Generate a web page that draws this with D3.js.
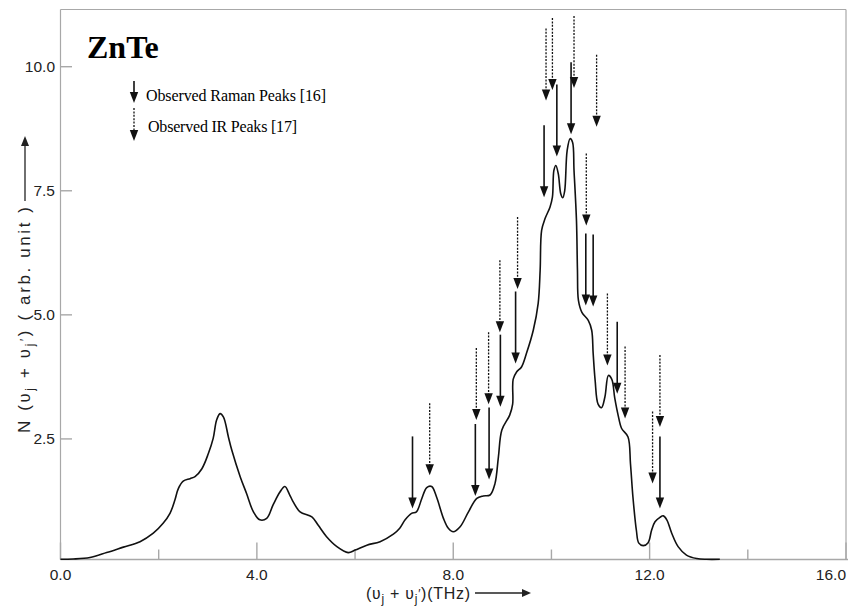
<!DOCTYPE html>
<html>
<head>
<meta charset="utf-8">
<script src="https://cdn.jsdelivr.net/npm/d3@7"></script>
<style>
  body { margin: 0; background: #fff; }
  text { font-family: "Liberation Sans", Arial, sans-serif; }
  text.serif { font-family: "Liberation Serif", "Times New Roman", serif; }
</style>
</head>
<body>
<div id="chart"></div>
<script>
// ZnTe two-phonon density of states
var freq = [0.0,0.26,0.6,0.94,1.28,1.62,1.89,2.09,2.23,2.33,2.4,2.5,2.64,2.74,2.88,3.01,3.11,3.18,3.25,3.32,3.42,3.49,3.66,3.79,3.93,4.06,4.2,4.33,4.47,4.57,4.67,4.74,4.88,5.12,5.25,5.42,5.63,5.86,6.0,6.24,6.51,6.78,6.91,7.02,7.15,7.25,7.36,7.46,7.56,7.66,7.8,7.9,8.0,8.14,8.31,8.48,8.61,8.75,8.85,8.92,8.99,9.15,9.21,9.22,9.29,9.39,9.49,9.63,9.73,9.77,9.8,9.87,9.97,10.02,10.05,10.09,10.14,10.19,10.23,10.27,10.32,10.38,10.43,10.46,10.51,10.53,10.55,10.62,10.75,10.82,10.85,10.89,10.95,11.02,11.09,11.16,11.23,11.29,11.36,11.43,11.56,11.61,11.66,11.73,11.78,11.87,11.97,12.04,12.11,12.21,12.28,12.35,12.45,12.58,12.75,12.96,13.16,13.43]
var dos  = [0.075,0.08,0.11,0.21,0.32,0.43,0.6,0.8,1.0,1.27,1.5,1.65,1.7,1.74,1.9,2.2,2.51,2.88,3.01,2.94,2.54,2.27,1.74,1.4,1.03,0.87,0.9,1.17,1.43,1.54,1.37,1.23,1.03,0.93,0.76,0.53,0.33,0.21,0.26,0.36,0.43,0.58,0.7,0.87,1.0,1.03,1.3,1.52,1.54,1.33,0.9,0.7,0.63,0.73,1.03,1.3,1.35,1.37,1.6,2.14,2.68,2.98,3.2,3.7,3.85,3.95,4.22,4.69,5.23,5.9,6.7,6.94,7.17,7.37,7.91,8.01,7.84,7.44,7.36,7.5,8.31,8.55,8.48,7.91,6.9,5.9,5.29,5.05,4.89,4.69,4.22,3.68,3.2,3.13,3.35,3.78,3.7,3.32,2.97,2.71,2.54,2.0,1.33,0.66,0.4,0.35,0.41,0.66,0.83,0.92,0.95,0.87,0.6,0.33,0.16,0.09,0.075,0.075]

// Raman peaks (solid arrows): position and height of the arrow tip
var ramanX   = [7.17,8.45,8.73,8.96,9.27,9.85,10.11,10.40,10.70,10.85,11.34,12.21]
var ramanTip = [1.10,1.35,1.68,3.15,4.02,7.37,8.19,8.64,5.19,5.17,3.41,1.10]
// IR peaks (dotted arrows)
var irX   = [7.52,8.47,8.72,8.95,9.31,9.89,10.02,10.46,10.92,10.71,11.14,11.50,12.06,12.21]
var irTip = [1.77,2.88,3.20,4.65,5.52,9.32,9.53,9.57,8.79,6.80,3.98,2.91,1.60,2.74]

var xTicks = [0,2,4,6,8,10,12,14,16]
var xLabels = ["0.0","4.0","8.0","12.0","16.0"]
var yTicks = [2.5,5.0,7.5,10.0]

var width = 849, height = 607
var axisY = 559.5

var x = d3.scaleLinear().domain([0,16]).range([60.5,846])
var y = d3.scaleLinear().domain([0,10]).range([563,66.7])

var svg = d3.select("#chart").append("svg")
    .attr("width", width)
    .attr("height", height)

var grey = "#a8a8a8"

// frame (top and right), axes
svg.append("line").attr("x1",60.5).attr("x2",846).attr("y1",9.5).attr("y2",9.5)
    .attr("stroke",grey).attr("stroke-width",1.2)
svg.append("line").attr("x1",846).attr("x2",846).attr("y1",9.5).attr("y2",axisY)
    .attr("stroke",grey).attr("stroke-width",1.2)
svg.append("line").attr("x1",60.5).attr("x2",60.5).attr("y1",9.5).attr("y2",axisY)
    .attr("stroke",grey).attr("stroke-width",1.2)
svg.append("line").attr("x1",60.5).attr("x2",848).attr("y1",axisY).attr("y2",axisY)
    .attr("stroke",grey).attr("stroke-width",1.4)

// x ticks point up into the plot, long ones at labelled values
svg.selectAll(".xt").data(xTicks).enter().append("line")
    .attr("x1", function(d){ return x(d) }).attr("x2", function(d){ return x(d) })
    .attr("y1", axisY)
    .attr("y2", function(d){ return d % 4 == 0 ? axisY-17 : axisY-10 })
    .attr("stroke", grey).attr("stroke-width", 1.4)

svg.selectAll(".xl").data(xLabels).enter().append("text")
    .attr("x", function(d){ return x(+d) })
    .attr("y", 580)
    .attr("text-anchor", function(d){ return +d == 16 ? "end" : "middle" })
    .attr("font-size", 15.5)
    .attr("fill", "#222")
    .text(function(d){ return d })

svg.selectAll(".yt").data(yTicks).enter().append("line")
    .attr("x1", 60.5).attr("x2", 72)
    .attr("y1", function(d){ return y(d) }).attr("y2", function(d){ return y(d) })
    .attr("stroke", grey).attr("stroke-width", 1.4)

svg.selectAll(".yl").data(yTicks).enter().append("text")
    .attr("x", 55)
    .attr("y", function(d){ return y(d) + 5.5 })
    .attr("text-anchor", "end")
    .attr("font-size", 15.5)
    .attr("fill", "#222")
    .text(function(d){ return d.toFixed(1) })

// the curve
var pts = freq.map(function(f,i){ return [f, dos[i]] })
var line = d3.line()
    .x(function(d){ return x(d[0]) })
    .y(function(d){ return y(d[1]) })
    .curve(d3.curveCatmullRom.alpha(0.5))

svg.append("path").datum(pts)
    .attr("d", line)
    .attr("fill", "none")
    .attr("stroke", "#111")
    .attr("stroke-width", 1.6)

// arrows
var arrowLen = 72
function arrow(px, tipPx, len, dotted){
    var g = svg.append("g")
    g.append("line")
        .attr("x1", px).attr("x2", px)
        .attr("y1", tipPx - len).attr("y2", tipPx - 8)
        .attr("stroke", "#111")
        .attr("stroke-width", dotted ? 1.3 : 1.6)
        .attr("stroke-dasharray", dotted ? "2,1.4" : null)
    g.append("path")
        .attr("d", "M" + (px-4.2) + "," + (tipPx-11) + "L" + (px+4.2) + "," + (tipPx-11) + "L" + px + "," + tipPx + "Z")
        .attr("fill", "#111")
}
ramanX.forEach(function(d,i){ arrow(x(d), y(ramanTip[i]), arrowLen, false) })
irX.forEach(function(d,i){ arrow(x(d), y(irTip[i]), arrowLen, true) })

// title and legend
svg.append("text")
    .attr("class", "serif")
    .attr("x", 87).attr("y", 58)
    .attr("font-weight", "bold")
    .attr("font-size", 32)
    .text("ZnTe")

arrow(134, 103, 22, false)
arrow(134, 141, 33, true)
svg.append("text")
    .attr("class", "serif")
    .attr("x", 146).attr("y", 101)
    .attr("font-size", 16)
    .attr("textLength", 180)
    .text("Observed Raman Peaks [16]")
svg.append("text")
    .attr("class", "serif")
    .attr("x", 148).attr("y", 132)
    .attr("font-size", 16)
    .attr("textLength", 149)
    .text("Observed IR Peaks [17]")

// axis titles with their arrows
function nuLabel(t){
    t.append("tspan").text("(")
    t.append("tspan").text("\u028B")
    t.append("tspan").attr("font-size", 12).attr("dy", 4).text("j")
    t.append("tspan").attr("dy", -4).text(" + \u028B")
    t.append("tspan").attr("font-size", 12).attr("dy", 4).text("j")
    t.append("tspan").attr("font-size", 12).attr("dy", -5).text("\u2032")
    t.append("tspan").attr("dy", 1).text(")")
}

var xt = svg.append("text")
    .attr("x", 366).attr("y", 599)
    .attr("font-size", 16)
    .attr("fill", "#222")
    .attr("textLength", 104)
nuLabel(xt)
xt.append("tspan").text("(THz)")
svg.append("line").attr("x1", 475).attr("x2", 522).attr("y1", 593).attr("y2", 593)
    .attr("stroke", "#222").attr("stroke-width", 1.3)
svg.append("path").attr("d", "M522,589L531,593L522,597Z").attr("fill", "#222")

var yt = svg.append("text")
    .attr("transform", "translate(30,433) rotate(-90)")
    .attr("font-size", 17)
    .attr("fill", "#222")
    .attr("textLength", 226)
yt.append("tspan").text("N ")
nuLabel(yt)
yt.append("tspan").text(" ( arb. unit )")
svg.append("line").attr("x1", 25).attr("x2", 25).attr("y1", 201).attr("y2", 145)
    .attr("stroke", "#222").attr("stroke-width", 1.3)
svg.append("path").attr("d", "M21,146L25,136L29,146Z").attr("fill", "#222")
</script>
</body>
</html>
